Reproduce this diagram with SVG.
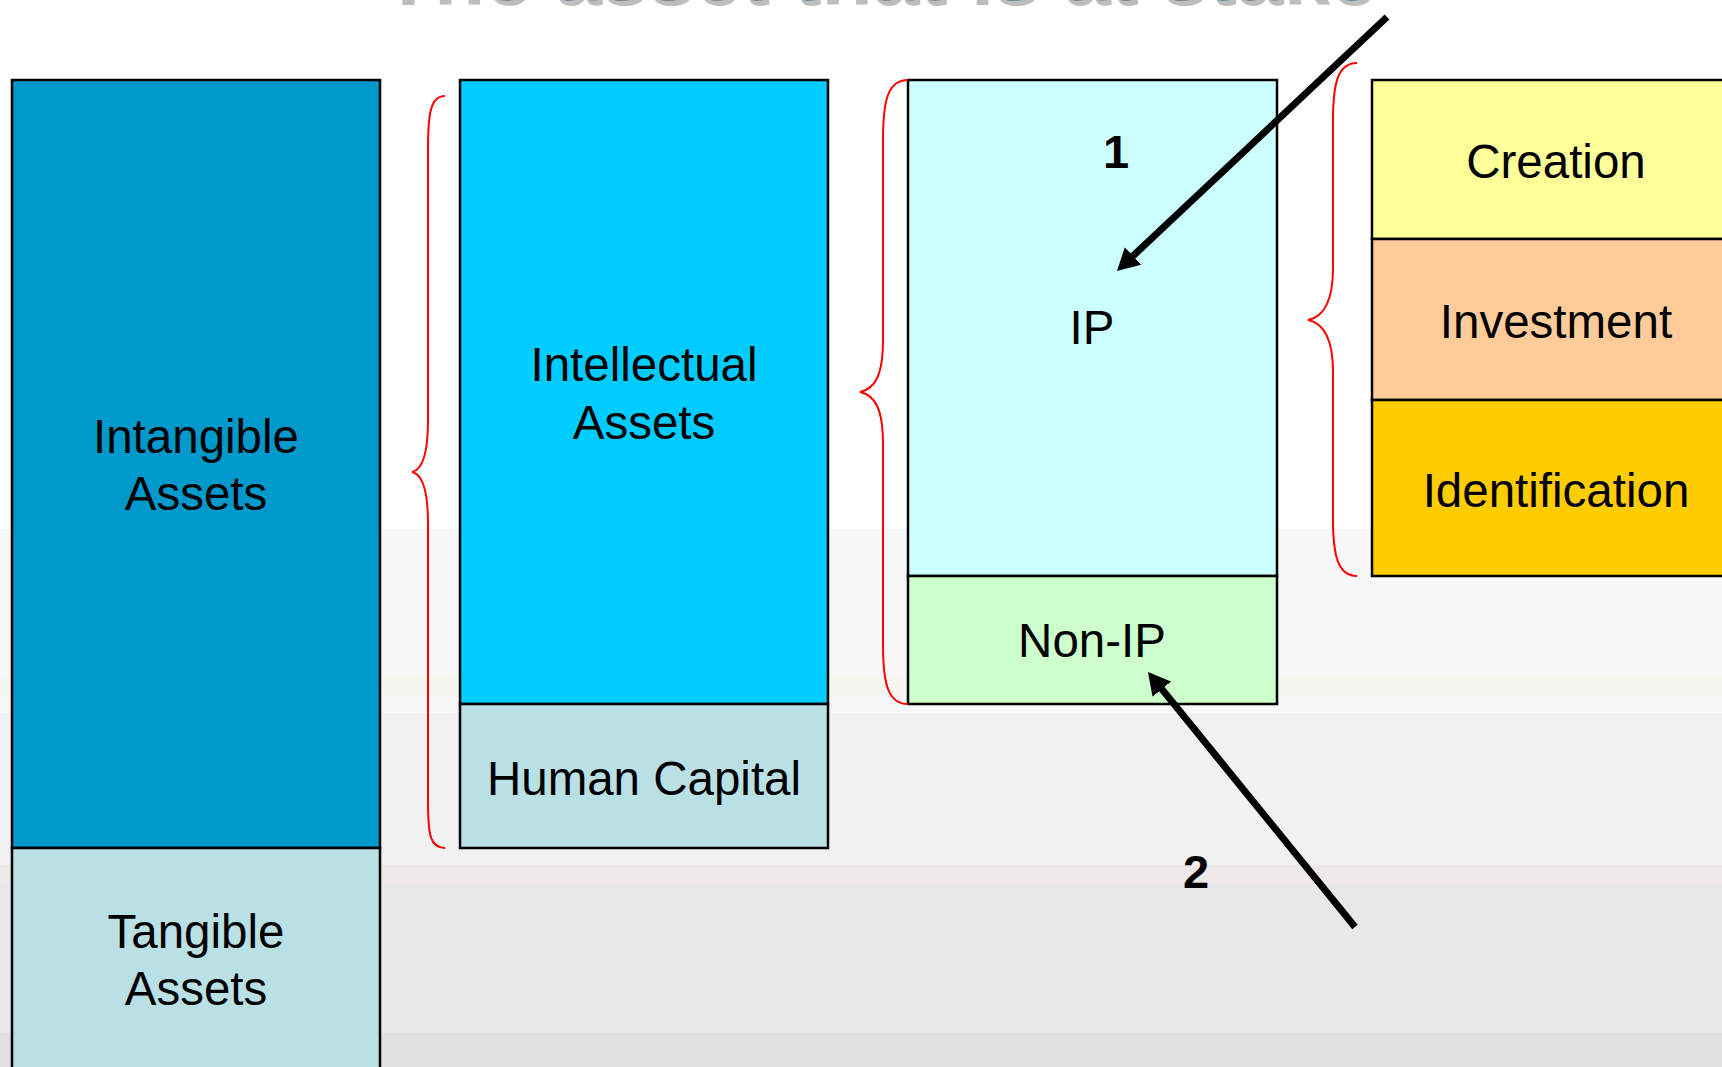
<svg xmlns="http://www.w3.org/2000/svg" width="1722" height="1067" viewBox="0 0 1722 1067">
<style>
text{font-family:"Liberation Sans",Arial,sans-serif;fill:#000}
.lbl{font-size:47.5px;text-anchor:middle}
.num{font-size:47px;font-weight:bold;text-anchor:middle}
.box{stroke:#000;stroke-width:2.5}
.brace{fill:none;stroke:#ff0000;stroke-width:2}
.arrow{stroke:#000;stroke-width:7;fill:none}
.title{font-size:84px;font-weight:bold;text-anchor:middle}
</style>
<defs>
<marker id="ah" viewBox="0 0 22 24" refX="8" refY="12" markerWidth="22" markerHeight="24" markerUnits="userSpaceOnUse" orient="auto">
<path d="M0,0 L22,12 L0,24 z" fill="#000"/>
</marker>
<filter id="shadow" x="-5%" y="-50%" width="110%" height="200%">
<feFlood flood-color="#bdbdbd" result="c"/>
<feComposite in="c" in2="SourceAlpha" operator="in" result="s"/>
<feOffset in="s" dx="3" dy="5" result="o"/>
<feMerge><feMergeNode in="o"/><feMergeNode in="SourceGraphic"/></feMerge>
</filter>
</defs>
<g id="background">
<rect x="0" y="0" width="1722" height="1067" fill="#ffffff"/>
<rect x="0" y="529" width="1722" height="184" fill="#f7f7f7"/>
<rect x="0" y="677" width="1722" height="18" fill="#f6f6f1"/>
<rect x="0" y="713" width="1722" height="152" fill="#f1f1f1"/>
<rect x="0" y="865" width="1722" height="18" fill="#efe8e8"/>
<rect x="0" y="883" width="1722" height="150" fill="#e8e8e8"/>
<rect x="0" y="1033" width="1722" height="34" fill="#e0e0e0"/>
</g>
<g id="title">
<text class="title" x="877" y="0" style="fill:#6a8a99" filter="url(#shadow)">The asset that is at stake</text>
</g>
<g id="intangible">
<rect class="box" x="12" y="80" width="368" height="768" fill="#0099cc"/>
<text class="lbl" x="196" y="453">Intangible</text>
<text class="lbl" x="196" y="510">Assets</text>
</g>
<g id="tangible">
<rect class="box" x="12" y="848" width="368" height="230" fill="#b9e0e4"/>
<text class="lbl" x="196" y="948">Tangible</text>
<text class="lbl" x="196" y="1005">Assets</text>
</g>
<g id="intellectual">
<rect class="box" x="460" y="80" width="368" height="624" fill="#00ccff"/>
<text class="lbl" x="644" y="381">Intellectual</text>
<text class="lbl" x="644" y="439">Assets</text>
</g>
<g id="human-capital">
<rect class="box" x="460" y="704" width="368" height="144" fill="#b9e0e4"/>
<text class="lbl" x="644" y="795">Human Capital</text>
</g>
<g id="ip">
<rect class="box" x="908" y="80" width="369" height="496" fill="#ccffff"/>
<text class="lbl" x="1092" y="344">IP</text>
</g>
<g id="non-ip">
<rect class="box" x="908" y="576" width="369" height="128" fill="#ccffcc"/>
<text class="lbl" x="1092" y="657">Non-IP</text>
</g>
<g id="creation">
<rect class="box" x="1372" y="80" width="370" height="159" fill="#ffff99"/>
<text class="lbl" x="1556" y="178">Creation</text>
</g>
<g id="investment">
<rect class="box" x="1372" y="239" width="370" height="161" fill="#ffcc99"/>
<text class="lbl" x="1556" y="338">Investment</text>
</g>
<g id="identification">
<rect class="box" x="1372" y="400" width="370" height="176" fill="#ffcc00"/>
<text class="lbl" x="1556" y="507">Identification</text>
</g>
<g id="braces">
<path class="brace" d="M445,96 C430,96 428,115 428,150 L428,420 C428,455 422,470 412,472 C422,474 428,489 428,524 L428,800 C428,835 430,848 445,848"/>
<path class="brace" d="M908,80 C888,80 883,100 883,140 L883,340 C883,375 875,389 860,392 C875,395 883,409 883,444 L883,644 C883,684 888,704 908,704"/>
<path class="brace" d="M1357,63 C1338,63 1333,83 1333,120 L1333,268 C1333,303 1323,317 1308,320 C1323,323 1333,337 1333,372 L1333,519 C1333,556 1338,576 1357,576"/>
</g>
<g id="connectors">
<line class="arrow" x1="1387" y1="17" x2="1127.2" y2="261.4" marker-end="url(#ah)"/>
<line class="arrow" x1="1355" y1="927" x2="1156.8" y2="682.9" marker-end="url(#ah)"/>
</g>
<g id="labels">
<text class="num" x="1116" y="168">1</text>
<text class="num" x="1196" y="888">2</text>
</g>
</svg>
